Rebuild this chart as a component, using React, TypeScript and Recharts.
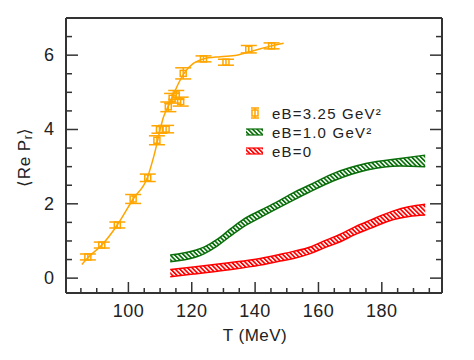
import React from 'react';
import { ComposedChart, Line, Area, Scatter, ErrorBar, XAxis, YAxis } from 'recharts';

// lattice points, eB = 3.25 GeV^2
const latT = [87.2, 91.6, 96.5, 101.5, 106.1, 109.0, 109.8, 111.9, 112.6, 113.8, 115.1, 116.5, 117.3, 123.7, 130.8, 138.0, 145.2];
const latVal = [0.57, 0.89, 1.43, 2.13, 2.70, 3.71, 4.00, 4.01, 4.61, 4.84, 4.93, 4.75, 5.51, 5.90, 5.81, 6.16, 6.25];
const latErr = [0.08, 0.08, 0.08, 0.12, 0.10, 0.12, 0.10, 0.10, 0.13, 0.13, 0.12, 0.12, 0.15, 0.08, 0.08, 0.10, 0.08];

// fit curve through the eB = 3.25 points
const fitT = [85.3, 87.2, 91.6, 96.5, 101.5, 106.1, 108.0, 111.1, 113.5, 115.3, 117.9, 120.5, 123.7, 129.0, 134.2, 139.5, 145.2, 149.0];
const fitVal = [0.37, 0.55, 0.89, 1.43, 2.13, 2.73, 3.27, 4.34, 4.79, 5.15, 5.55, 5.78, 5.90, 5.96, 6.00, 6.12, 6.25, 6.32];

// eB = 1.0 GeV^2 band
const greenT = [113.2, 121.1, 124.0, 128.0, 132.0, 136.3, 141.6, 146.9, 152.1, 157.0, 164.8, 175.3, 185.8, 193.7];
const greenLo = [0.44, 0.56, 0.66, 0.86, 1.12, 1.38, 1.63, 1.87, 2.10, 2.31, 2.62, 2.91, 3.02, 3.00];
const greenHi = [0.62, 0.75, 0.84, 1.04, 1.31, 1.58, 1.82, 2.05, 2.30, 2.50, 2.82, 3.09, 3.22, 3.31];

// eB = 0 band
const redT = [113.2, 120.5, 131.1, 141.6, 147.9, 152.1, 157.4, 162.0, 166.9, 171.5, 176.4, 183.7, 188.5, 193.7];
const redLo = [0.04, 0.11, 0.22, 0.35, 0.46, 0.53, 0.66, 0.82, 0.98, 1.17, 1.34, 1.58, 1.66, 1.70];
const redHi = [0.23, 0.30, 0.41, 0.53, 0.64, 0.72, 0.84, 1.01, 1.18, 1.38, 1.56, 1.81, 1.92, 1.99];

const xTicks = [85, 90, 95, 100, 105, 110, 115, 120, 125, 130, 135, 140, 145, 150, 155, 160, 165, 170, 175, 180, 185, 190, 195];
const yTicks = [0, 0.5, 1, 1.5, 2, 2.5, 3, 3.5, 4, 4.5, 5, 5.5, 6, 6.5];

const ORANGE = '#FFA500';
const GREEN = '#0a6e0a';
const RED = '#ff0000';
const AXIS = '#333';
const FONT = '"Liberation Sans", Arial, Helvetica, sans-serif';

const latData = latT.map((T, i) => ({ T, v: latVal[i], err: latErr[i] }));
const fitData = fitT.map((T, i) => ({ T, v: fitVal[i] }));
const greenData = greenT.map((T, i) => ({ T, band: [greenLo[i], greenHi[i]] }));
const redData = redT.map((T, i) => ({ T, band: [redLo[i], redHi[i]] }));

const XTick = (props: any) => {
  const { x, y, payload, side } = props;
  const v = payload.value;
  const major = v % 20 === 0;
  const len = major ? 11 : 5;
  const dir = side === 'bottom' ? -1 : 1;
  return (
    <g>
      <line x1={x} y1={y} x2={x} y2={y + dir * len} stroke={AXIS} strokeWidth={1.5} />
      {side === 'bottom' && major && (
        <text x={x} y={y + 24} textAnchor="middle" fontSize={18} fill="#222" fontFamily={FONT} letterSpacing={0.5}>
          {v}
        </text>
      )}
    </g>
  );
};

const YTick = (props: any) => {
  const { x, y, payload, side } = props;
  const v = payload.value;
  const major = Math.abs(v % 2) < 1e-6;
  const len = major ? 12 : 6;
  const dir = side === 'left' ? 1 : -1;
  return (
    <g>
      <line x1={x} y1={y} x2={x + dir * len} y2={y} stroke={AXIS} strokeWidth={1.5} />
      {side === 'left' && major && (
        <text x={x - 12} y={y + 6} textAnchor="end" fontSize={18} fill="#222" fontFamily={FONT}>
          {v}
        </text>
      )}
    </g>
  );
};

const LatMarker = (props: any) => {
  const { cx, cy } = props;
  if (cx == null || cy == null) return null;
  return <rect x={cx - 3} y={cy - 3} width={6} height={6} fill="none" stroke={ORANGE} strokeWidth={1.5} />;
};

const Hatch = ({ id, color }: { id: string; color: string }) => (
  <pattern id={id} patternUnits="userSpaceOnUse" width={3.2} height={3.2} patternTransform="rotate(-45)">
    <rect x={0} y={0} width={3.2} height={3.2} fill="#fff" />
    <rect x={0} y={0} width={1.7} height={3.2} fill={color} />
  </pattern>
);

const YLabel = () => (
  <text x={24} y={157} transform="rotate(-90 24 157)" textAnchor="middle" dominantBaseline="central" fontSize={17} fill="#222" fontFamily={FONT} letterSpacing={0.5}>
    ⟨Re P<tspan dy={4} fontSize={12}>r</tspan><tspan dy={-4}>⟩</tspan>
  </text>
);

const XLabel = () => (
  <text x={255} y={341} textAnchor="middle" fontSize={17} fill="#222" fontFamily={FONT} letterSpacing={0.5}>
    T (MeV)
  </text>
);

const legendRows = [
  { label: 'eB=3.25 GeV²', kind: 'points', color: ORANGE },
  { label: 'eB=1.0 GeV²', kind: 'band', color: GREEN, fill: 'lgGreen' },
  { label: 'eB=0', kind: 'band', color: RED, fill: 'lgRed' },
];

const LegendOverlay = () => (
  <svg width={474} height={360} style={{ position: 'absolute', left: 0, top: 0, pointerEvents: 'none' }}>
    <defs>
      <Hatch id="lgGreen" color={GREEN} />
      <Hatch id="lgRed" color={RED} />
    </defs>
    {legendRows.map((r, i) => {
      const cy = 113 + i * 19;
      return (
        <g key={r.label}>
          {r.kind === 'points' ? (
            <g stroke={r.color} strokeWidth={1.5} fill="none">
              <line x1={255} y1={cy - 5} x2={255} y2={cy + 5} />
              <line x1={251} y1={cy - 5} x2={259} y2={cy - 5} />
              <line x1={251} y1={cy + 5} x2={259} y2={cy + 5} />
              <rect x={252} y={cy - 3} width={6} height={6} />
            </g>
          ) : (
            <g>
              <rect x={246} y={cy - 3} width={17} height={6} fill={`url(#${r.fill})`} />
              <line x1={246} y1={cy - 3} x2={263} y2={cy - 3} stroke={r.color} strokeWidth={1.2} />
              <line x1={246} y1={cy + 3} x2={263} y2={cy + 3} stroke={r.color} strokeWidth={1.2} />
            </g>
          )}
          <text x={272} y={cy + 5.5} fontSize={15} fill="#222" fontFamily={FONT} letterSpacing={1.2}>
            {r.label}
          </text>
        </g>
      );
    })}
  </svg>
);

export default function App() {
  const axisLine = { stroke: AXIS, strokeWidth: 2 };
  return (
    <div style={{ position: 'absolute', left: 0, top: 0, width: 474, height: 360, background: '#fff' }}>
      <ComposedChart width={474} height={360} margin={{ top: 0, right: 0, bottom: 0, left: 0 }}>
        <defs>
          <Hatch id="hatchGreen" color={GREEN} />
          <Hatch id="hatchRed" color={RED} />
        </defs>
        <XAxis
          xAxisId="b"
          dataKey="T"
          type="number"
          domain={[80.3, 199]}
          allowDataOverflow
          ticks={xTicks}
          interval={0}
          height={67}
          tickSize={0}
          tickMargin={0}
          tickLine={false}
          axisLine={axisLine}
          tick={(p: any) => <XTick {...p} side="bottom" />}
          label={{ content: () => <XLabel /> }}
        />
        <XAxis
          xAxisId="t"
          orientation="top"
          type="number"
          domain={[80.3, 199]}
          allowDataOverflow
          ticks={xTicks}
          interval={0}
          height={18}
          tickSize={0}
          tickMargin={0}
          tickLine={false}
          axisLine={axisLine}
          tick={(p: any) => <XTick {...p} side="top" />}
        />
        <YAxis
          yAxisId="l"
          type="number"
          domain={[-0.4, 7]}
          allowDataOverflow
          ticks={yTicks}
          interval={0}
          width={66}
          tickSize={0}
          tickMargin={0}
          tickLine={false}
          axisLine={axisLine}
          tick={(p: any) => <YTick {...p} side="left" />}
          label={{ content: () => <YLabel /> }}
        />
        <YAxis
          yAxisId="r"
          orientation="right"
          type="number"
          domain={[-0.4, 7]}
          allowDataOverflow
          ticks={yTicks}
          interval={0}
          width={32}
          tickSize={0}
          tickMargin={0}
          tickLine={false}
          axisLine={axisLine}
          tick={(p: any) => <YTick {...p} side="right" />}
        />
        <Area
          xAxisId="b"
          yAxisId="l"
          data={redData}
          dataKey="band"
          type="monotone"
          stroke={RED}
          strokeWidth={1.5}
          fill="url(#hatchRed)"
          fillOpacity={1}
          isAnimationActive={false}
        />
        <Area
          xAxisId="b"
          yAxisId="l"
          data={greenData}
          dataKey="band"
          type="monotone"
          stroke={GREEN}
          strokeWidth={1.5}
          fill="url(#hatchGreen)"
          fillOpacity={1}
          isAnimationActive={false}
        />
        <Line
          xAxisId="b"
          yAxisId="l"
          data={fitData}
          dataKey="v"
          type="monotone"
          stroke={ORANGE}
          strokeWidth={1.5}
          dot={false}
          isAnimationActive={false}
        />
        <Scatter
          xAxisId="b"
          yAxisId="l"
          data={latData}
          dataKey="v"
          shape={<LatMarker />}
          isAnimationActive={false}
        >
          <ErrorBar dataKey="err" direction="y" width={8} stroke={ORANGE} strokeWidth={1.5} />
        </Scatter>
      </ComposedChart>
      <LegendOverlay />
    </div>
  );
}
